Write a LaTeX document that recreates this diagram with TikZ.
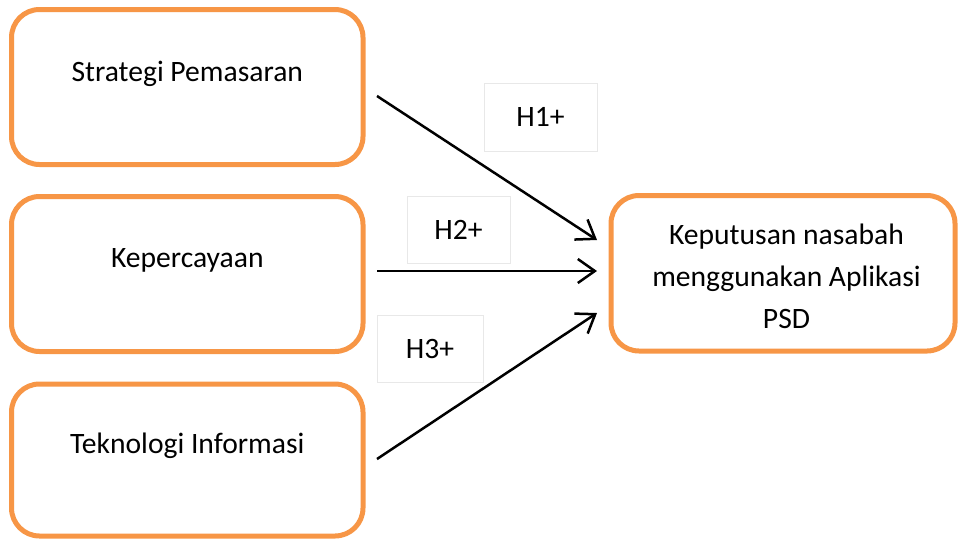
\documentclass[tikz,border=0pt]{standalone}
\usepackage{fontspec}
\setmainfont{Carlito}
\usetikzlibrary{arrows.meta}
\definecolor{boxorange}{HTML}{F79646}
\definecolor{lblgray}{HTML}{E8E8E8}
\begin{document}
\begin{tikzpicture}[x=1pt,y=-1pt,
  varbox/.style={draw=boxorange, line width=5pt, rounded corners=28pt, fill=white,
    minimum width=351.5pt, minimum height=155pt, inner sep=0pt},
  vartext/.style={font=\fontsize{29.6}{42}\selectfont},
  hypbox/.style={draw=lblgray, line width=0.8pt, fill=white, inner sep=0pt,
    font=\fontsize{29.6}{34}\selectfont},
  link/.style={line width=2.5pt, -{Straight Barb[length=17pt,width=24pt,line width=2.5pt]}}]
\useasboundingbox (0,0) rectangle (958,539);
\node[varbox, label={[vartext, yshift=13pt]center:Strategi Pemasaran}] (sp) at (187.25,87) {};
\node[varbox, label={[vartext, yshift=13.5pt]center:Kepercayaan}] (kp) at (187.25,274) {};
\node[varbox, minimum height=152pt, label={[vartext, yshift=14pt]center:Teknologi Informasi}] (ti) at (187.25,460) {};
\node[varbox, minimum width=344pt, minimum height=155.5pt,
  label={[vartext, align=center, yshift=-3pt, xshift=3.5pt]center:Keputusan nasabah\\menggunakan Aplikasi\\PSD}] (kn) at (783,273.25) {};
\node[hypbox, minimum width=113pt, minimum height=68pt] (h1) at (540.5,117) {H1+};
\node[hypbox, minimum width=103pt, minimum height=67pt] (h2) at (458.5,229.5) {H2+};
\node[hypbox, minimum width=106pt, minimum height=67pt] (h3) at (430,348.5) {H3+};
\coordinate (s1) at (377,96);
\coordinate (s2) at (377,271);
\coordinate (s3) at (377,459);
\coordinate (e1) at (597,240);
\coordinate (e2) at (597,271);
\coordinate (e3) at (597,313);
\draw[link] (s1) -- (e1);
\draw[link] (s2) -- (e2);
\draw[link] (s3) -- (e3);
\end{tikzpicture}
\end{document}
